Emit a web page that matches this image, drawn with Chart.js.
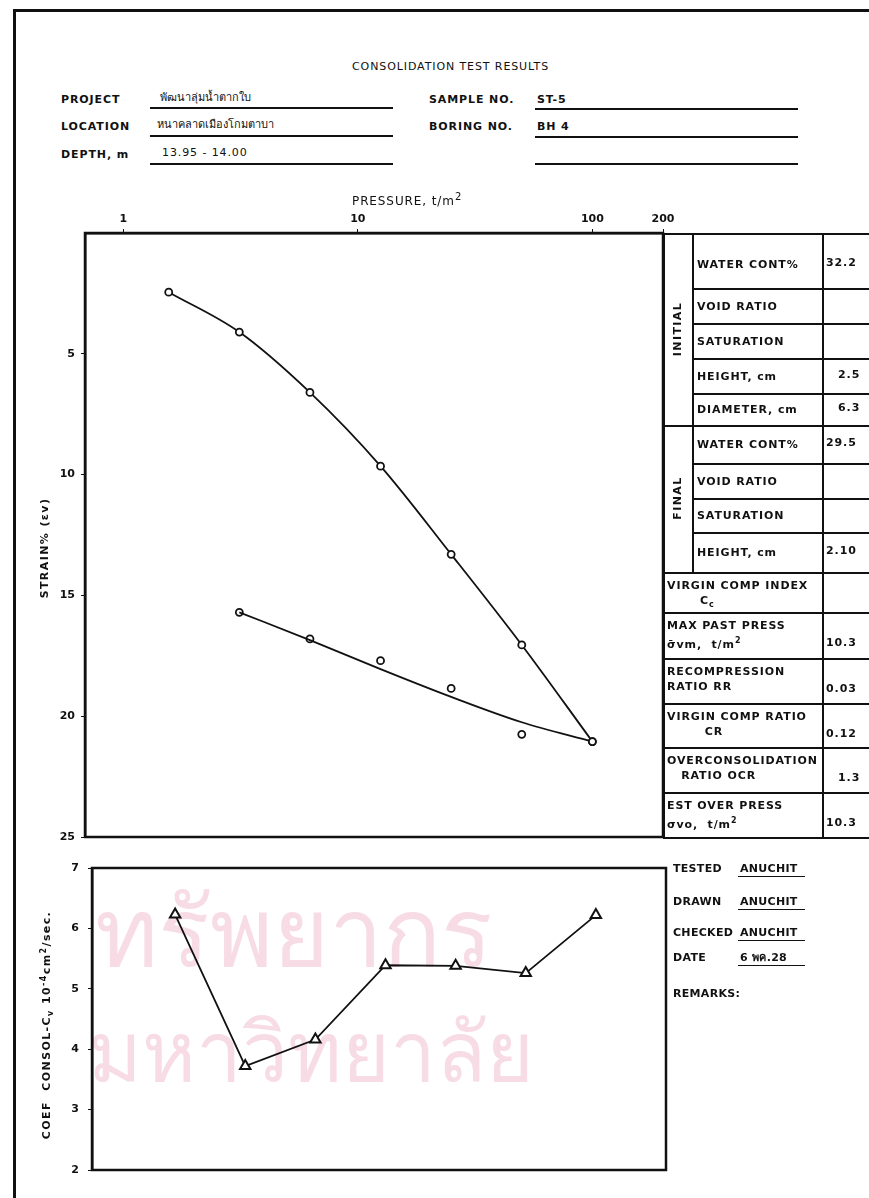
<!DOCTYPE html>
<html lang="th">
<head>
<meta charset="UTF-8">
<title>Consolidation Test Results</title>
<script src="https://cdn.jsdelivr.net/npm/chart.js"></script>
<style>
  body { margin:0; width:869px; height:1198px; overflow:hidden; background:#fff; position:relative;
         font-family:"DejaVu Sans", sans-serif; color:#111; }
  .t { position:absolute; white-space:nowrap; font-size:11px; font-weight:bold; letter-spacing:0.9px; line-height:13px; }
  .ln { position:absolute; background:#111; }
  canvas { position:absolute; left:0; }
  .wm { position:absolute; white-space:nowrap; color:rgba(225,130,160,0.28); line-height:1; }
  .rot { position:absolute; white-space:nowrap; font-size:11px; font-weight:bold; letter-spacing:1.4px; transform:translate(-50%,-50%) rotate(-90deg); }
</style>
</head>
<body>
<div class="wm" style="left:95px; top:885px; font-size:96px;">ทรัพยากร</div>
<div class="wm" style="left:88px; top:1012px; font-size:82px;">มหาวิทยาลัย</div>

<canvas id="strainChart" width="869" height="660" style="top:190px"></canvas>
<canvas id="cvChart" width="869" height="348" style="top:850px"></canvas>

<div id="sheet"></div>

<script>
// consolidation readings, pressure in t/m2
const loadP = [1.5625, 3.125, 6.25, 12.5, 25, 50, 100];
const loadStrain = [2.45, 4.1, 6.6, 9.65, 13.3, 17.05, 21.05];
const unloadP = [3.125, 6.25, 12.5, 25, 50, 100];
const unloadStrain = [15.7, 16.8, 17.7, 18.85, 20.75, 21.05];
const unloadCurve = [15.7, 16.85, 18.05, 19.2, 20.25, 21.05];   // drawn fit line
const cvValues = [6.23, 3.72, 4.16, 5.39, 5.38, 5.26, 6.22];
const pressureTicks = [1, 10, 100, 200];
const strainTicks = [5, 10, 15, 20, 25];
const cvTicks = [2, 3, 4, 5, 6, 7];

const ink = '#111';
const tickFont = { family: 'DejaVu Sans', size: 11, weight: 'bold' };

const frame = {
    id: 'frame',
    afterDatasetsDraw(chart) {
        const a = chart.chartArea, c = chart.ctx;
        c.save();
        c.strokeStyle = ink;
        c.lineWidth = 2.5;
        c.strokeRect(a.left, a.top, a.right - a.left, a.bottom - a.top);
        c.restore();
    }
};

function pts(xs, ys) {
    return xs.map((x, i) => ({ x: x, y: ys[i] }));
}

new Chart(document.getElementById('strainChart'), {
    type: 'line',
    data: {
        datasets: [{
            data: pts(loadP, loadStrain),
            borderColor: ink, borderWidth: 1.8,
            cubicInterpolationMode: 'monotone',
            pointRadius: 3.5, pointBorderWidth: 1.8,
            pointBackgroundColor: '#fff', pointBorderColor: ink
        }, {
            data: pts(unloadP, unloadCurve),
            borderColor: ink, borderWidth: 1.8,
            cubicInterpolationMode: 'monotone',
            pointRadius: 0
        }, {
            data: pts(unloadP, unloadStrain),
            showLine: false,
            pointRadius: 3.5, pointBorderWidth: 1.8,
            pointBackgroundColor: '#fff', pointBorderColor: ink
        }]
    },
    options: {
        responsive: false,
        animation: false,
        layout: { padding: { left: 0, top: 0, right: 206, bottom: 13 } },
        plugins: { legend: { display: false }, tooltip: { enabled: false } },
        scales: {
            x: {
                type: 'logarithmic', position: 'top', min: 0.687, max: 200,
                afterBuildTicks: s => { s.ticks = pressureTicks.map(v => ({ value: v })); },
                afterFit: s => { s.height = 43; },
                ticks: { callback: v => String(v), color: ink, font: tickFont, padding: 3, maxRotation: 0, autoSkip: false },
                grid: { drawOnChartArea: false, tickLength: 4, color: ink },
                border: { color: ink, width: 2.5 }
            },
            y: {
                min: 0, max: 25, reverse: true,
                afterBuildTicks: s => { s.ticks = strainTicks.map(v => ({ value: v })); },
                afterFit: s => { s.width = 85; },
                ticks: { color: ink, font: tickFont, padding: 6 },
                grid: { drawOnChartArea: false, tickLength: 4, color: ink },
                border: { color: ink, width: 2.5 }
            }
        }
    },
    plugins: [frame]
});

new Chart(document.getElementById('cvChart'), {
    type: 'line',
    data: {
        datasets: [{
            data: pts(loadP, cvValues),
            borderColor: ink, borderWidth: 1.8,
            pointStyle: 'triangle', pointRadius: 6, pointBorderWidth: 2,
            pointBackgroundColor: '#fff', pointBorderColor: ink
        }, {
            data: pts(loadP, cvValues),
            showLine: false,
            pointRadius: 1.2, pointBackgroundColor: ink, pointBorderColor: ink
        }]
    },
    options: {
        responsive: false,
        animation: false,
        layout: { padding: { left: 0, top: 18, right: 203, bottom: 28 } },
        plugins: { legend: { display: false }, tooltip: { enabled: false } },
        scales: {
            x: { type: 'logarithmic', min: 0.687, max: 200, display: false },
            y: {
                min: 2, max: 7,
                afterBuildTicks: s => { s.ticks = cvTicks.map(v => ({ value: v })); },
                afterFit: s => { s.width = 92; },
                ticks: { color: ink, font: tickFont, padding: 9 },
                grid: { drawOnChartArea: false, tickLength: 4, color: ink },
                border: { color: ink, width: 2.5 }
            }
        }
    },
    plugins: [frame]
});

// ---- sheet text and ruled lines ----
const sheet = document.getElementById('sheet');

function txt(x, y, s, style) {
    const d = document.createElement('div');
    d.className = 't';
    d.style.left = x + 'px';
    d.style.top = y + 'px';
    if (style) d.style.cssText += style;
    d.innerHTML = s;
    sheet.appendChild(d);
}
function rot(cx, cy, s) {
    const d = document.createElement('div');
    d.className = 'rot';
    d.style.left = cx + 'px';
    d.style.top = cy + 'px';
    d.innerHTML = s;
    sheet.appendChild(d);
}
function hl(x1, x2, y, w) {
    const d = document.createElement('div');
    d.className = 'ln';
    d.style.cssText = `left:${x1}px;top:${y}px;width:${x2 - x1}px;height:${w || 2}px`;
    sheet.appendChild(d);
}
function vl(x, y1, y2, w) {
    const d = document.createElement('div');
    d.className = 'ln';
    d.style.cssText = `left:${x}px;top:${y1}px;width:${w || 2}px;height:${y2 - y1}px`;
    sheet.appendChild(d);
}

// page frame
vl(13, 9, 1198, 3);
hl(13, 869, 9, 3);

// heading
txt(352, 60, 'CONSOLIDATION TEST RESULTS', 'font-weight:normal');
txt(61, 93, 'PROJECT');
txt(61, 120, 'LOCATION');
txt(61, 148, 'DEPTH, m');
txt(160, 90, 'พัฒนาลุ่มน้ำตากใบ', 'font-family:"Noto Sans","DejaVu Sans",sans-serif;letter-spacing:0;font-weight:normal');
txt(157, 117, 'หนาคลาดเมืองโกมตาบา', 'font-family:"Noto Sans","DejaVu Sans",sans-serif;letter-spacing:0;font-weight:normal');
txt(162, 146, '13.95 - 14.00', 'font-weight:normal');
hl(150, 393, 107, 1.5);
hl(150, 393, 135, 1.5);
hl(150, 393, 163, 1.5);
txt(429, 93, 'SAMPLE NO.');
txt(429, 120, 'BORING NO.');
txt(537, 93, 'ST-5');
txt(537, 120, 'BH 4');
hl(535, 798, 108, 1.5);
hl(535, 798, 136, 1.5);
hl(535, 798, 163, 1.5);
txt(352, 190, 'PRESSURE, t/m<sup style="font-size:10px">2</sup>', 'font-size:12px;font-weight:normal');

// axis titles
rot(44, 548, 'STRAIN% (εv)');
rot(47, 1025, 'COEF&nbsp; CONSOL-C<sub style="font-size:8px">v</sub> 10<sup style="font-size:8px">-4</sup>cm<sup style="font-size:8px">2</sup>/sec.');

// property table
hl(663, 869, 233);
vl(663, 233, 839);
vl(692, 233, 572);
vl(822, 233, 839);
[288, 323, 358, 393, 463, 498, 532].forEach(y => hl(692, 869, y));
[425, 572, 612, 658, 703, 747, 792, 837].forEach(y => hl(663, 869, y));
rot(677, 329, 'INITIAL');
rot(677, 498, 'FINAL');

const subRows = [
    [240, 288, 'WATER CONT%', '32.2'],
    [288, 323, 'VOID RATIO', ''],
    [323, 358, 'SATURATION', ''],
    [358, 393, 'HEIGHT, cm', '2.5'],
    [393, 425, 'DIAMETER, cm', '6.3'],
    [425, 463, 'WATER CONT%', '29.5'],
    [463, 498, 'VOID RATIO', ''],
    [498, 532, 'SATURATION', ''],
    [532, 572, 'HEIGHT, cm', '2.10']
];
subRows.forEach(r => {
    const mid = (r[0] + r[1]) / 2 - 6;
    txt(697, mid, r[2]);
    txt(r[3].length < 4 ? 838 : 826, mid - 2, r[3]);
});

const wideRows = [
    [572, 'VIRGIN COMP INDEX', '&nbsp;&nbsp;&nbsp;&nbsp;&nbsp;&nbsp;&nbsp;C<sub style="font-size:8px">c</sub>', ''],
    [612, 'MAX PAST PRESS', 'σ̄vm,&nbsp; t/m<sup style="font-size:8px">2</sup>', '10.3'],
    [658, 'RECOMPRESSION', 'RATIO RR', '0.03'],
    [703, 'VIRGIN COMP RATIO', '&nbsp;&nbsp;&nbsp;&nbsp;&nbsp;&nbsp;&nbsp;&nbsp;CR', '0.12'],
    [747, 'OVERCONSOLIDATION', '&nbsp;&nbsp;&nbsp;RATIO OCR', '1.3'],
    [792, 'EST OVER PRESS', 'σvo,&nbsp; t/m<sup style="font-size:8px">2</sup>', '10.3']
];
wideRows.forEach(r => {
    txt(667, r[0] + 7, r[1]);
    txt(667, r[0] + 22, r[2]);
    txt(r[3].length < 4 ? 838 : 826, r[0] + 24, r[3]);
});

// sign-off block
const signRows = [
    [862, 'TESTED', 'ANUCHIT'],
    [895, 'DRAWN', 'ANUCHIT'],
    [926, 'CHECKED', 'ANUCHIT'],
    [951, 'DATE', '6 พค.28']
];
signRows.forEach(r => {
    txt(673, r[0], r[1], 'letter-spacing:0.3px');
    txt(740, r[0], r[2], 'letter-spacing:0.3px');
    hl(738, 805, r[0] + 14, 1.2);
});
txt(673, 987, 'REMARKS:', 'letter-spacing:0.3px');
</script>
</body>
</html>
